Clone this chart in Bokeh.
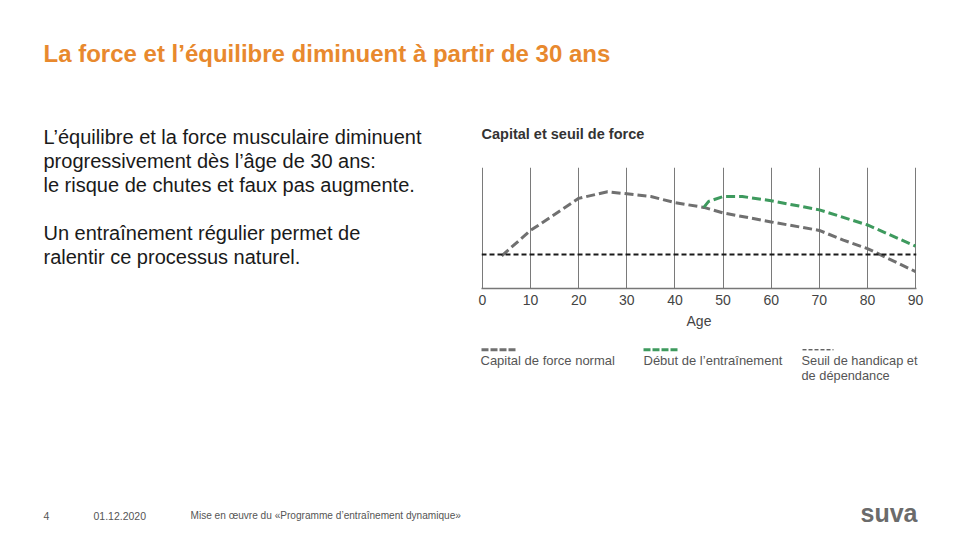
from bokeh.plotting import figure
from bokeh.models import Range1d, FixedTicker, Label, Span, Arrow
from bokeh.layouts import column, row
from bokeh.embed import file_html
from bokeh.resources import INLINE

# ---- data ----
ages_normal = [4, 10, 20, 26, 35, 40, 46, 50, 60, 70, 75, 80, 90]
strength_normal = [27, 48, 74.5, 80, 76, 71, 67, 62.5, 55, 48, 40, 33, 14]
ages_training = [46, 47, 50, 54, 60, 70, 80, 90]
strength_training = [67, 72, 76, 76, 72.5, 65, 52.5, 35]
threshold = 28
age_ticks = [0, 10, 20, 30, 40, 50, 60, 70, 80, 90]

page_title = "La force et l’équilibre diminuent à partir de 30 ans"
body_lines = [
    "L’équilibre et la force musculaire diminuent",
    "progressivement dès l’âge de 30 ans:",
    "le risque de chutes et faux pas augmente.",
    "Un entraînement régulier permet de",
    "ralentir ce processus naturel.",
]
chart_title = "Capital et seuil de force"
x_label = "Age"
legend_labels = ["Capital de force normal", "Début de l’entraînement",
                 "Seuil de handicap et", "de dépendance"]
footer_texts = ["4", "01.12.2020", "Mise en œuvre du «Programme d’entraînement dynamique»"]
logo_text = "suva"

GRAY = "#707070"
GREEN = "#3E9A5E"
ORANGE = "#E8892E"
FONT = "Liberation Sans"


def blank(w, h):
    f = figure(width=w, height=h, x_range=Range1d(0, w), y_range=Range1d(0, h),
               output_backend="svg", toolbar_location=None, title=None,
               x_axis_location=None, y_axis_location=None, min_border=0)
    f.outline_line_color = None
    f.background_fill_color = "white"
    f.border_fill_color = "white"
    f.grid.visible = False
    return f


def lab(f, text, x, y, size, color, style="normal", align="left"):
    f.add_layout(Label(x=x, y=y, x_units="screen", y_units="screen",
                       text=text, text_font=FONT, text_font_size=size,
                       text_color=color, text_font_style=style,
                       text_align=align, text_baseline="middle"))


# ---- top: page title (page y 0..120) ----
top = blank(944, 120)
lab(top, page_title, 43, 120 - 53, "24px", ORANGE, "bold")

# ---- left: body text (page x 0..470, y 120..400) ----
left = blank(470, 280)
for t, cy in zip(body_lines, [136, 160, 184, 232, 256]):
    lab(left, t, 43, 400 - cy, "20px", "#1a1a1a")

# ---- chart header (page x 470..944, y 120..160) ----
head = blank(474, 40)
lab(head, chart_title, 11, 160 - 133.6, "14.5px", "#333333", "bold")

# ---- chart (page x 470..944, y 160..335) ----
p = figure(width=474, height=175, output_backend="svg", toolbar_location=None,
           title=None, x_range=Range1d(-0.2, 90.2), y_range=Range1d(0, 100),
           y_axis_location=None,
           min_border_left=11, min_border_right=28,
           min_border_top=7, min_border_bottom=47)
p.outline_line_color = None
p.background_fill_color = "white"
p.border_fill_color = "white"
p.ygrid.visible = False
p.xaxis.ticker = FixedTicker(ticks=age_ticks)
p.xgrid.ticker = FixedTicker(ticks=age_ticks)
p.xgrid.grid_line_color = "#7a7a7a"
p.xgrid.grid_line_width = 1
p.xaxis.axis_line_color = "#777777"
p.xaxis.axis_line_width = 1.5
p.xaxis.major_tick_line_color = None
p.xaxis.minor_tick_line_color = None
p.xaxis.major_label_text_font = FONT
p.xaxis.major_label_text_font_size = "14px"
p.xaxis.major_label_text_color = "#444444"
p.xaxis.major_label_standoff = 0
p.xaxis.axis_label = x_label
p.xaxis.axis_label_text_font = FONT
p.xaxis.axis_label_text_font_size = "14px"
p.xaxis.axis_label_text_font_style = "normal"
p.xaxis.axis_label_text_color = "#444444"
p.xaxis.axis_label_standoff = 5

p.add_layout(Span(location=threshold, dimension="width", line_color="#1a1a1a",
                  line_width=2, line_dash="5 3"))
p.line(ages_normal, strength_normal, line_color=GRAY, line_width=3, line_dash="9 4")
p.line(ages_training, strength_training, line_color=GREEN, line_width=3, line_dash="9 4")

# ---- legend (page x 470..944, y 335..400) ----
leg = blank(474, 65)
for (x0, x1, col, w, dash) in [(481, 516, GRAY, 3, "7 2"),
                               (643, 677, GREEN, 3, "7 2"),
                               (802, 833, "#222222", 1, "4 2")]:
    leg.add_layout(Arrow(end=None, x_start=x0 - 470, y_start=400 - 349.3,
                         x_end=x1 - 470, y_end=400 - 349.3,
                         start_units="screen", end_units="screen",
                         line_color=col, line_width=w, line_dash=dash))
lab(leg, legend_labels[0], 480 - 470, 400 - 360, "13px", "#555555")
lab(leg, legend_labels[1], 643 - 470, 400 - 360, "13px", "#555555")
lab(leg, legend_labels[2], 801 - 470, 400 - 360, "12.8px", "#555555")
lab(leg, legend_labels[3], 801 - 470, 400 - 375, "12.8px", "#555555")

# ---- footer (page y 400..532) ----
foot = blank(944, 132)
for t, fx, fs in zip(footer_texts, [43, 93, 190], ["10.5px", "10.5px", "10.1px"]):
    lab(foot, t, fx, 532 - 515, fs, "#555555")
lab(foot, logo_text, 917, 532 - 512, "25px", "#6b6b6b", "bold", align="right")

right = column(column(head), p, column(leg))
layout = column(top, row(left, right), foot)
open("out.html", "w").write(file_html(layout, INLINE))
